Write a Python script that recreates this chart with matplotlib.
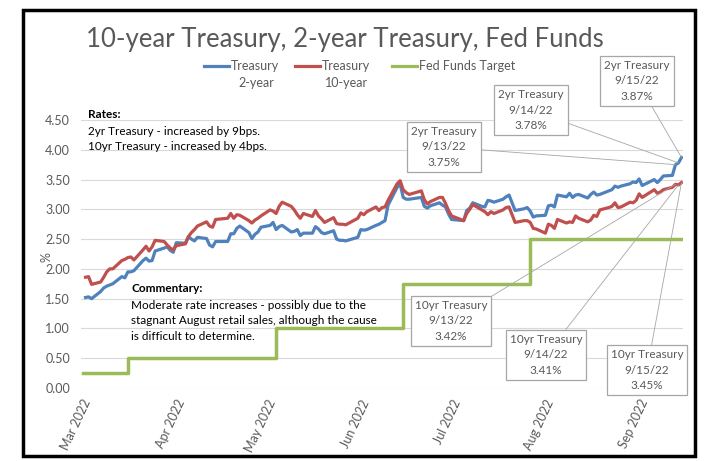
import numpy as np
import pandas as pd
import matplotlib
matplotlib.use("Agg")
from matplotlib import pyplot as plt
import matplotlib.dates as mdates
from matplotlib.lines import Line2D
from matplotlib.patches import Rectangle

plt.rcParams['font.family'] = ['Lato', 'DejaVu Sans']

# business days Mar 2 - Sep 15 2022 (bond market holidays removed)
holidays = ['2022-04-15', '2022-05-30', '2022-06-20', '2022-07-04', '2022-09-05']
dates = pd.bdate_range('2022-03-02', '2022-09-15')
dates = dates[~dates.isin(pd.to_datetime(holidays))]

two_yr_mar = [1.52, 1.53, 1.50, 1.62, 1.68, 1.71, 1.73, 1.75, 1.87, 1.85, 1.95,
              1.95, 1.97, 2.14, 2.18, 2.13, 2.14, 2.30, 2.35, 2.37, 2.31, 2.28]
two_yr_apr = [2.44, 2.43, 2.54, 2.50, 2.47, 2.53, 2.51, 2.40, 2.37, 2.46,
              2.46, 2.59, 2.59, 2.68, 2.72, 2.61, 2.51, 2.58, 2.62, 2.70]
two_yr_may = [2.73, 2.78, 2.66, 2.71, 2.73, 2.62, 2.63, 2.66, 2.56, 2.60, 2.60,
              2.71, 2.67, 2.61, 2.59, 2.64, 2.50, 2.48, 2.48, 2.47, 2.53]
two_yr_jun = [2.66, 2.65, 2.66, 2.73, 2.75, 2.78, 2.81, 3.07, 3.37, 3.43, 3.20,
              3.17, 3.17, 3.20, 3.05, 3.02, 3.06, 3.11, 3.07, 3.04, 2.92]
two_yr_jul = [2.83, 2.81, 2.98, 3.02, 3.11, 3.05, 3.04, 3.15, 3.14, 3.12,
              3.17, 3.21, 3.24, 3.11, 2.98, 3.01, 3.03, 2.97, 2.87, 2.89]
two_yr_aug = [2.90, 3.06, 3.07, 3.04, 3.24, 3.21, 3.27, 3.20, 3.24, 3.25, 3.19, 3.25,
              3.29, 3.24, 3.25, 3.31, 3.33, 3.39, 3.37, 3.39, 3.43, 3.46, 3.45]
two_yr_sep = [3.51, 3.40, 3.50, 3.45, 3.50, 3.56, 3.57, 3.75, 3.78, 3.87]

ten_yr_mar = [1.86, 1.87, 1.74, 1.78, 1.86, 1.95, 2.00, 2.00, 2.14, 2.16, 2.19,
              2.20, 2.15, 2.32, 2.38, 2.30, 2.37, 2.48, 2.46, 2.40, 2.35, 2.32]
ten_yr_apr = [2.39, 2.42, 2.54, 2.61, 2.66, 2.72, 2.79, 2.72, 2.70, 2.83,
              2.85, 2.93, 2.85, 2.91, 2.90, 2.81, 2.77, 2.82, 2.85, 2.89]
ten_yr_may = [2.99, 2.97, 2.93, 3.05, 3.12, 3.05, 2.99, 2.91, 2.85, 2.93, 2.88,
              2.98, 2.89, 2.84, 2.78, 2.86, 2.76, 2.75, 2.75, 2.74, 2.85]
ten_yr_jun = [2.94, 2.91, 2.96, 3.04, 2.98, 3.03, 3.04, 3.15, 3.43, 3.48, 3.33,
              3.28, 3.25, 3.31, 3.16, 3.09, 3.13, 3.20, 3.20, 3.10, 2.98]
ten_yr_jul = [2.89, 2.81, 2.93, 3.00, 3.08, 2.99, 2.96, 2.91, 2.96, 2.93,
              2.99, 3.03, 3.04, 2.91, 2.78, 2.81, 2.81, 2.78, 2.68, 2.67]
ten_yr_aug = [2.60, 2.75, 2.73, 2.68, 2.83, 2.77, 2.79, 2.78, 2.89, 2.85, 2.79, 2.82,
              2.90, 2.88, 2.99, 3.03, 3.05, 3.11, 3.03, 3.04, 3.12, 3.11, 3.15]
ten_yr_sep = [3.26, 3.20, 3.33, 3.27, 3.29, 3.33, 3.37, 3.42, 3.41, 3.45]

fed_dates = ['2022-03-01', '2022-03-16', '2022-05-04', '2022-06-15', '2022-07-27', '2022-09-15']
fed_target = [0.25, 0.50, 1.00, 1.75, 2.50, 2.50]

two_yr = two_yr_mar + two_yr_apr + two_yr_may + two_yr_jun + two_yr_jul + two_yr_aug + two_yr_sep
ten_yr = ten_yr_mar + ten_yr_apr + ten_yr_may + ten_yr_jun + ten_yr_jul + ten_yr_aug + ten_yr_sep

BLUE = '#4f81bd'
RED = '#c0504d'
GREEN = '#9bbb59'
GRAY = '#595959'
BOXGRAY = '#a6a6a6'

W, H = 704, 461


def px(x, y):
    # pixel position measured from the top-left corner -> figure fraction
    return x / W, 1 - y / H


fig = plt.figure(figsize=(7.04, 4.61), dpi=100)
ax = fig.add_axes([81 / W, 1 - 388 / H, 602 / W, 268 / H])

ax.plot(dates, two_yr, color=BLUE, lw=2.3, solid_joinstyle='round', zorder=3)
ax.plot(dates, ten_yr, color=RED, lw=2.3, solid_joinstyle='round', zorder=3)
ax.step(pd.to_datetime(fed_dates), fed_target, where='post', color=GREEN, lw=2.5, zorder=3)

ax.set_ylim(0, 4.5)
ax.set_yticks(np.arange(0, 4.51, 0.5))
ax.yaxis.set_major_formatter(matplotlib.ticker.FormatStrFormatter('%.2f'))
ax.set_xlim(pd.Timestamp('2022-02-28 12:00'), pd.Timestamp('2022-09-15 12:00'))
ax.xaxis.set_major_locator(mdates.MonthLocator())
ax.xaxis.set_major_formatter(mdates.DateFormatter('%b %Y'))
ax.grid(axis='y', color='#d9d9d9', lw=0.8)
ax.set_axisbelow(True)
for s in ax.spines.values():
    s.set_visible(False)
ax.tick_params(axis='both', length=0, colors=GRAY, labelsize=9)
ax.tick_params(axis='y', pad=8)
ax.tick_params(axis='x', pad=7)
for lab in ax.get_xticklabels():
    lab.set_rotation(65)
    lab.set_ha('right')
    lab.set_rotation_mode('anchor')
ax.set_ylabel('%', color=GRAY, fontsize=9)
ax.yaxis.set_label_coords(-0.047, 0.49)

# title and legend
fig.text(*px(345, 39), '10-year Treasury, 2-year Treasury, Fed Funds', ha='center', va='center',
         fontsize=18.5, color=GRAY)
legend_items = [(204, BLUE, 'Treasury', '2-year'), (295, RED, 'Treasury', '10-year'),
                (392, GREEN, 'Fed Funds Target', None)]
for x0, col, l1, l2 in legend_items:
    (xa, ya), (xb, _) = px(x0, 66), px(x0 + 25, 66)
    fig.add_artist(Line2D([xa, xb], [ya, ya], color=col, lw=2.3, transform=fig.transFigure))
    fig.text(*px(x0 + 27, 66), l1, ha='left', va='center', fontsize=9, color=GRAY)
    if l2:
        fig.text(*px(x0 + 52, 83), l2, ha='center', va='center', fontsize=9, color=GRAY)

# notes
fig.text(*px(88, 115), 'Rates:', fontsize=8.5, fontweight='bold', va='center')
fig.text(*px(88, 131), '2yr Treasury - increased by 9bps.', fontsize=8.5, va='center')
fig.text(*px(88, 147), '10yr Treasury - increased by 4bps.', fontsize=8.5, va='center')
fig.text(*px(131, 289), 'Commentary:', fontsize=8.5, fontweight='bold', va='center')
fig.text(*px(131, 305), 'Moderate rate increases - possibly due to the', fontsize=8.5, va='center')
fig.text(*px(131, 320), 'stagnant August retail sales, although the cause', fontsize=8.5, va='center')
fig.text(*px(131, 336), 'is difficult to determine.', fontsize=8.5, va='center')

# data callouts
callouts = [('2yr Treasury', two_yr, -3, (444, 147)),
            ('2yr Treasury', two_yr, -2, (531, 110)),
            ('2yr Treasury', two_yr, -1, (637, 81)),
            ('10yr Treasury', ten_yr, -3, (451, 321)),
            ('10yr Treasury', ten_yr, -2, (546, 355)),
            ('10yr Treasury', ten_yr, -1, (647, 370))]
for name, series, i, pos in callouts:
    d = dates[i]
    txt = f"{name}\n{d.month}/{d.day}/{d.strftime('%y')}\n{series[i]:.2f}%"
    ax.annotate(txt, xy=(d, series[i]), xycoords='data', xytext=px(*pos),
                textcoords='figure fraction', ha='center', va='center', fontsize=8.5,
                color=GRAY, linespacing=1.45, zorder=5, annotation_clip=False,
                bbox=dict(boxstyle='square,pad=0.35', fc='white', ec=BOXGRAY, lw=0.9),
                arrowprops=dict(arrowstyle='-', color=BOXGRAY, lw=0.6, shrinkA=0, shrinkB=0))

# outer frame
fig.add_artist(Rectangle((23 / W, 1 - 456 / H), 672 / W, 446 / H, transform=fig.transFigure,
                         fill=False, ec='black', lw=2.5))

fig.savefig('out.png', dpi=100)
